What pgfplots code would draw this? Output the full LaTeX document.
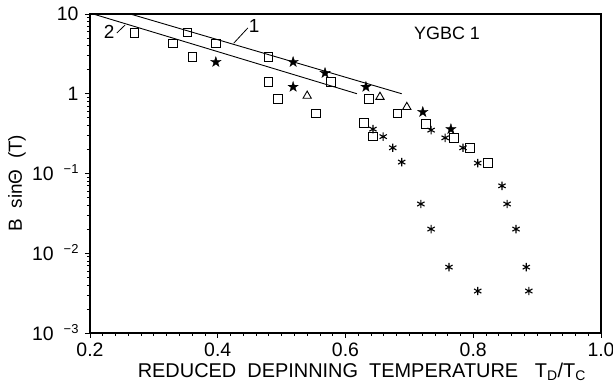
\documentclass[border=0pt]{standalone}
\usepackage{fontspec}
\setmainfont{Liberation Sans}
\usepackage{pgfplots}
\pgfplotsset{compat=1.18}
\usetikzlibrary{plotmarks}

\pgfdeclareplotmark{fstar}{%
  \pgfpathmoveto{\pgfpoint{0pt}{\pgfplotmarksize}}%
  \pgfpathlineto{\pgfpoint{-0.225\pgfplotmarksize}{0.309\pgfplotmarksize}}%
  \pgfpathlineto{\pgfpoint{-0.951\pgfplotmarksize}{0.309\pgfplotmarksize}}%
  \pgfpathlineto{\pgfpoint{-0.363\pgfplotmarksize}{-0.118\pgfplotmarksize}}%
  \pgfpathlineto{\pgfpoint{-0.588\pgfplotmarksize}{-0.809\pgfplotmarksize}}%
  \pgfpathlineto{\pgfpoint{0pt}{-0.382\pgfplotmarksize}}%
  \pgfpathlineto{\pgfpoint{0.588\pgfplotmarksize}{-0.809\pgfplotmarksize}}%
  \pgfpathlineto{\pgfpoint{0.363\pgfplotmarksize}{-0.118\pgfplotmarksize}}%
  \pgfpathlineto{\pgfpoint{0.951\pgfplotmarksize}{0.309\pgfplotmarksize}}%
  \pgfpathlineto{\pgfpoint{0.225\pgfplotmarksize}{0.309\pgfplotmarksize}}%
  \pgfpathclose
  \pgfusepathqfillstroke}

\newcommand{\sups}[1]{\hspace{10bp}\raisebox{7bp}{\fontsize{13}{13}\selectfont #1}}

\pgfplotstableread{
x y
0.270 5.8
0.330 4.3
0.353 5.9
0.360 2.9
0.397 4.3
0.479 2.9
0.479 1.40
0.494 0.86
0.554 0.57
0.577 1.40
0.637 0.86
0.681 0.57
0.629 0.43
0.643 0.29
0.726 0.42
0.770 0.28
0.795 0.21
0.823 0.135
}\squares

\pgfplotstableread{
x y
0.397 2.5
0.518 2.5
0.518 1.22
0.568 1.82
0.632 1.22
0.721 0.59
0.765 0.36
}\stars

\pgfplotstableread{
x y
0.540 0.94
0.654 0.91
0.696 0.68
}\triangles

\pgfplotstableread{
x y
0.643 0.36
0.659 0.29
0.674 0.21
0.688 0.139
0.734 0.35
0.756 0.28
0.784 0.21
0.807 0.135
0.845 0.070
0.718 0.0415
0.853 0.0415
0.734 0.0201
0.867 0.0201
0.762 0.0067
0.883 0.0067
0.807 0.00336
0.887 0.00336
}\asterisks

\begin{document}
\begin{tikzpicture}
\useasboundingbox (-90bp,-52bp) rectangle (523bp,333bp);
\begin{axis}[
  scale only axis, width=511bp, height=319bp,
  xmin=0.2, xmax=1.0, ymin=1e-3, ymax=10,
  ymode=log,
  axis line style={line width=1.1bp},
  tick pos=left, tick align=outside,
  major tick length=5bp, minor tick length=3bp,
  every tick/.style={black, line width=0.8bp},
  xtick={0.2,0.4,0.6,0.8,1.0},
  xticklabels={0.2,0.4,0.6,0.8,1.0},
  minor x tick num=9,
  ytick={1e-3,1e-2,1e-1,1,10},
  yticklabels={10\sups{−3},10\sups{−2},10\sups{−1},1\hspace{16bp},10\hspace{16bp}},
  xticklabel style={font=\fontsize{19.5}{21}\selectfont, anchor=north, yshift=-1bp},
  yticklabel style={font=\fontsize{19.5}{21}\selectfont, anchor=base east, yshift=-7bp, xshift=-3bp},
  clip=false,
  mark size=4.2bp,
]
\addplot[black, line width=0.9bp] coordinates {(0.263,10) (0.688,1.0)};
\addplot[black, line width=0.9bp] coordinates {(0.205,10) (0.618,1.0)};
\addplot[black, line width=0.8bp] coordinates {(0.447,6.67) (0.425,4.3)};
\addplot[black, line width=0.8bp] coordinates {(0.242,5.78) (0.255,7.28)};
\addplot[only marks, mark=square, mark options={black, line width=0.9bp}] table {\squares};
\addplot[only marks, mark=fstar, mark size=5.5bp, mark options={black, fill=black, line width=0.3bp}] table {\stars};
\addplot[only marks, mark=triangle, mark size=4.8bp, mark options={black, line width=0.9bp}] table {\triangles};
\addplot[only marks, mark=asterisk, mark size=4.2bp, mark options={black, line width=1.1bp}] table {\asterisks};
\node[font=\fontsize{19}{21}\selectfont] at (axis cs:0.457,7.08) {1};
\node[font=\fontsize{19}{21}\selectfont] at (axis cs:0.230,5.95) {2};
\node[font=\fontsize{18}{20}\selectfont] at (axis cs:0.759,5.78) {YGBC 1};
\node[font=\fontsize{20}{22}\selectfont, anchor=center] at ([yshift=-39bp]rel axis cs:0.532,0) {REDUCED\ \ DEPINNING\ \ TEMPERATURE\ \ \ T\textsubscript{D}/T\textsubscript{C}};
\node[font=\fontsize{19}{21}\selectfont, rotate=90, anchor=center] at ([xshift=-73bp]rel axis cs:0,0.47) {B\ \ sinΘ\ \ (T)};
\end{axis}
\end{tikzpicture}
\end{document}
